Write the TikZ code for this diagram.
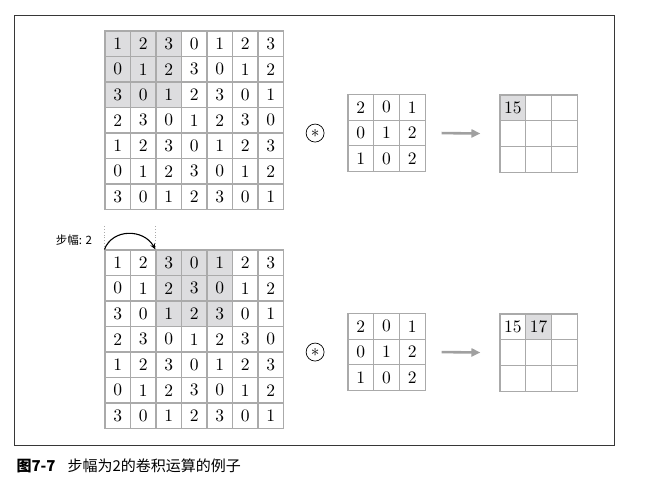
\documentclass[tikz,border=0pt]{standalone}
\usepackage{fontspec}
\newfontfamily\cjk{Noto Sans CJK SC}
\newfontfamily\digitfont{lmroman10-regular}[Extension=.otf]
\usetikzlibrary{arrows.meta,calc,positioning}
\definecolor{gridgray}{RGB}{170,170,170}
\definecolor{hotgray}{RGB}{221,221,223}
\definecolor{arrowgray}{RGB}{160,160,160}
\definecolor{framegray}{RGB}{55,55,55}
\tikzset{
  cell/.style={draw=gridgray,line width=1.1pt,minimum size=25.5pt,inner sep=0pt,
               font=\digitfont\fontsize{17.5}{18}\selectfont},
  hot/.style={cell,fill=hotgray},
  kcell/.style={cell,minimum size=25.7pt},
  khot/.style={kcell,fill=hotgray},
  conv/.style={draw=black,circle,line width=0.7pt,minimum size=18pt,inner sep=0pt,
               font=\LARGE},
  flow/.style={-{Triangle[length=9pt,width=8pt]},arrowgray,line width=2.6pt},
  guide/.style={gridgray,dotted,line width=0.8pt},
  stride/.style={-{Stealth[length=6pt,width=5pt]},line width=1.1pt},
  lab/.style={font=\cjk\fontsize{11.5}{12}\selectfont},
  figcap/.style={font=\cjk\fontsize{15}{16}\selectfont},
}

\begin{document}
\begin{tikzpicture}[x=1pt,y=-1pt]
  \path[use as bounding box] (0,0) rectangle (649,500);
  \draw[framegray,line width=0.9pt] (14,15) rectangle (614,445);

  % input 7x7, one per panel
  \foreach \p/\ytop/\scol in {1/31/0,2/250/2}{
    \foreach \row [count=\ri from 0] in {{1,2,3,0,1,2,3},{0,1,2,3,0,1,2},{3,0,1,2,3,0,1},
        {2,3,0,1,2,3,0},{1,2,3,0,1,2,3},{0,1,2,3,0,1,2},{3,0,1,2,3,0,1}}{
      \foreach \val [count=\ci from 0] in \row{
        \def\cellsty{cell}
        \ifnum\ri<3 \ifnum\ci<\numexpr\scol+3\relax \ifnum\ci<\scol\else\def\cellsty{hot}\fi\fi\fi
        \node[\cellsty] (in\p-\ri-\ci) at ({117.75+25.5*\ci},{\ytop+12.75+25.5*\ri}) {\val};
      }
    }
  }

  % filter 3x3 and the operator
  \foreach \p/\ytop in {1/94.5,2/313.5}{
    \foreach \row [count=\ri from 0] in {{2,0,1},{0,1,2},{1,0,2}}{
      \foreach \val [count=\ci from 0] in \row
        \node[kcell] (ker\p-\ri-\ci) at ({360.85+25.7*\ci},{\ytop+12.85+25.7*\ri}) {\val};
    }
    \node[conv,left=23pt of ker\p-1-0] (op\p) {$\ast$};
  }

  % output 3x3
  \foreach \p/\ytop/\rows in {1/95/{{15,{},{}},{{},{},{}},{{},{},{}}},
                              2/314/{{15,17,{}},{{},{},{}},{{},{},{}}}}{
    \foreach \row [count=\ri from 0] in \rows{
      \foreach \val [count=\ci from 0] in \row{
        \def\cellsty{kcell}
        \ifnum\ri=0 \ifnum\ci=\numexpr\p-1\relax \def\cellsty{khot}\fi\fi
        \node[\cellsty] (out\p-\ri-\ci) at ({512.85+25.7*\ci},{\ytop+12.85+25.7*\ri}) {\val};
      }
    }
    \draw[flow] ([xshift=16pt]ker\p-1-2.east) -- ([xshift=-19pt]out\p-1-0.west);
  }

  % stride
  \draw[guide] (in2-0-0.north west) -- ++(0,-25);
  \draw[guide] (in2-0-2.north west) -- ++(0,-25);
  \draw[stride] (in2-0-0.north west) .. controls +(8,-21) and +(-12,-21) .. (in2-0-2.north west);
  \node[lab,anchor=east] (stridelab) at ($(in2-0-0.north west)+(-9,-9)$) {步幅: 2};

  \node[figcap,anchor=west] (caption) at (13,466) {{\bfseries 图7-7}\hspace{0.8em}步幅为2的卷积运算的例子};
\end{tikzpicture}
\end{document}
